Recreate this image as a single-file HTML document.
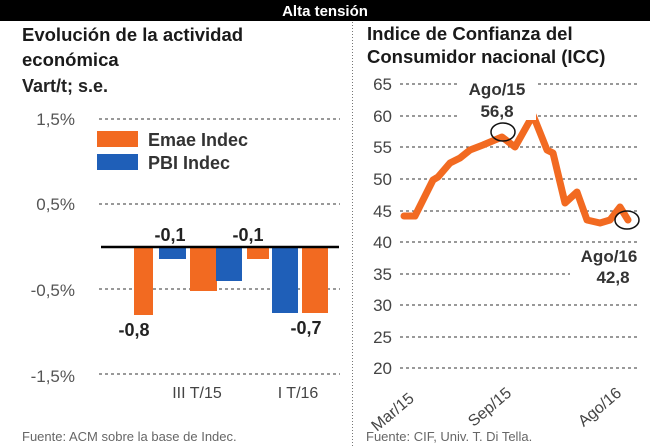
<!DOCTYPE html>
<html><head><meta charset="utf-8"><style>
body{margin:0;width:650px;height:446px;background:#fff;overflow:hidden}
svg{display:block}
text{font-family:"Liberation Sans",sans-serif}
</style></head><body>
<svg width="650" height="446" viewBox="0 0 650 446">
<rect x="0" y="0" width="650" height="21" fill="#000"/>
<text x="325" y="16" text-anchor="middle" fill="#fff" font-size="15" font-weight="bold">Alta tensión</text>
<line x1="352.5" y1="22" x2="352.5" y2="446" stroke="#777" stroke-dasharray="1,2"/>
<g fill="#1a1a1a" font-weight="bold" font-size="18.5">
<text x="22" y="41">Evolución de la actividad</text>
<text x="22" y="66">económica</text>
<text x="367" y="40">Indice de Confianza del</text>
<text x="367" y="63">Consumidor nacional (ICC)</text>
</g>
<text x="22" y="92" fill="#222" font-size="18" font-weight="bold">Vart/t; s.e.</text>
<g stroke="#333" stroke-dasharray="3,3" stroke-width="1">
<line x1="99" y1="119" x2="340" y2="119"/><line x1="99" y1="204" x2="340" y2="204"/>
<line x1="99" y1="289" x2="340" y2="289"/><line x1="99" y1="374" x2="340" y2="374"/>
</g>
<g fill="#555" font-size="17" text-anchor="end">
<text x="75" y="125">1,5%</text><text x="75" y="210">0,5%</text><text x="75" y="296">-0,5%</text><text x="75" y="382">-1,5%</text>
</g>
<g fill="#f26a21">
<rect x="134" y="247" width="19" height="68"/><rect x="190" y="247" width="27" height="44"/>
<rect x="247" y="247" width="22" height="12"/><rect x="302" y="247" width="26" height="66"/>
<rect x="97" y="131" width="41" height="16"/>
</g>
<g fill="#1f5fb8">
<rect x="159" y="247" width="27" height="12"/><rect x="216" y="247" width="26" height="34"/>
<rect x="272" y="247" width="26" height="66"/>
<rect x="97" y="154" width="41" height="16"/>
</g>
<line x1="101" y1="247" x2="339" y2="247" stroke="#000" stroke-width="2.5"/>
<g fill="#333" font-size="18" font-weight="bold">
<text x="148" y="146">Emae Indec</text><text x="148" y="169">PBI Indec</text>
</g>
<g fill="#222" font-size="18" font-weight="bold" text-anchor="middle" font-family="Liberation Serif">
<text x="170" y="241">-0,1</text><text x="248" y="241">-0,1</text>
<text x="134" y="336">-0,8</text><text x="306" y="334">-0,7</text>
</g>
<g fill="#444" font-size="16" text-anchor="middle">
<text x="197" y="398">III T/15</text><text x="298" y="398">I T/16</text>
</g>
<text x="22" y="441" fill="#666" font-size="13">Fuente: ACM sobre la base de Indec.</text>
<g stroke="#333" stroke-dasharray="3,3">
<line x1="400" y1="84" x2="638" y2="84"/><line x1="400" y1="116" x2="638" y2="116"/>
<line x1="400" y1="147" x2="638" y2="147"/><line x1="400" y1="179" x2="638" y2="179"/>
<line x1="400" y1="211" x2="638" y2="211"/><line x1="400" y1="242" x2="638" y2="242"/>
<line x1="400" y1="274" x2="638" y2="274"/><line x1="400" y1="305" x2="638" y2="305"/>
<line x1="400" y1="337" x2="638" y2="337"/><line x1="400" y1="368" x2="638" y2="368"/>
</g>
<g fill="#444" font-size="17" text-anchor="end">
<text x="392" y="90">65</text><text x="392" y="122">60</text><text x="392" y="153">55</text>
<text x="392" y="185">50</text><text x="392" y="217">45</text><text x="392" y="248">40</text>
<text x="392" y="280">35</text><text x="392" y="311">30</text><text x="392" y="343">25</text><text x="392" y="374">20</text>
</g>
<polyline fill="none" stroke="#f26a21" stroke-width="7" stroke-linejoin="round" stroke-linecap="round"
points="404,216 415,216 433,180 438,177 450,163 460,158 470,150 483,145 502,137 515,147 533,115 547,150 553,153 565,203 577,192 587,220 600,223 610,220 620,207 628,220"/>
<ellipse cx="503" cy="132" rx="12" ry="9" fill="none" stroke="#111" stroke-width="1.5"/>
<ellipse cx="627" cy="220" rx="12" ry="9" fill="none" stroke="#111" stroke-width="1.5"/>
<g fill="#333" font-size="17" font-weight="bold" text-anchor="middle">
<rect x="458" y="78" width="78" height="42" fill="#fff"/>
<text x="497" y="95">Ago/15</text><text x="497" y="117">56,8</text>
<rect x="570" y="247" width="76" height="38" fill="#fff"/>
<text x="609" y="262">Ago/16</text><text x="613" y="283">42,8</text>
</g>
<g fill="#444" font-size="16" text-anchor="middle">
<text transform="translate(396,416) rotate(-40)">Mar/15</text>
<text transform="translate(493,411) rotate(-40)">Sep/15</text>
<text transform="translate(603,411) rotate(-40)">Ago/16</text>
</g>
<text x="366" y="441" fill="#666" font-size="13">Fuente: CIF, Univ. T. Di Tella.</text>
</svg>
</body></html>
